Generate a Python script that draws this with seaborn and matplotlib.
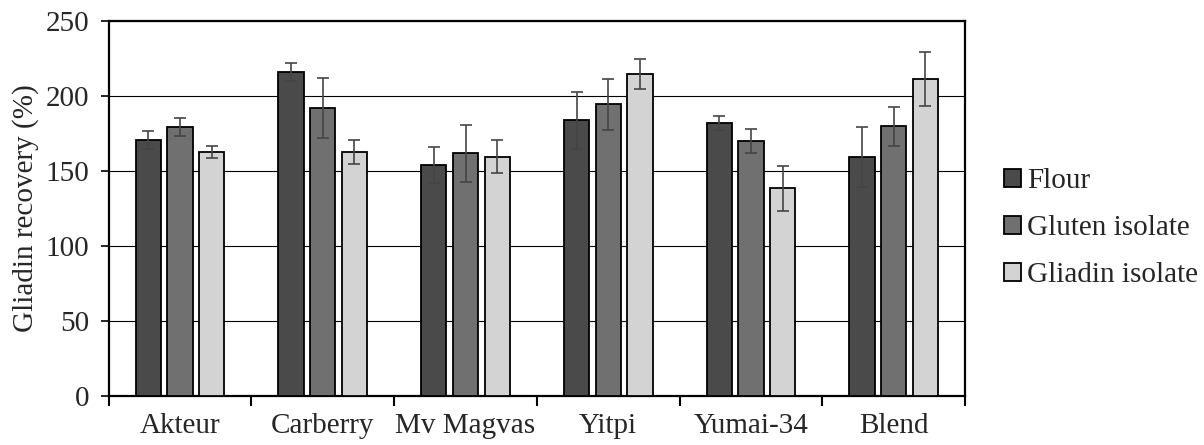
import pandas as pd
import numpy as np
import matplotlib
matplotlib.use("Agg")
import matplotlib.pyplot as plt
import seaborn as sns

# Data
cultivars = ["Akteur", "Carberry", "Mv Magvas", "Yitpi", "Yumai-34", "Blend"]
samples = ["Flour", "Gluten isolate", "Gliadin isolate"]

flour = [170.5, 216, 154, 184, 182, 159.5]
gluten = [179.5, 192, 162, 194.5, 170, 180]
gliadin = [163, 162.5, 159.5, 215, 138.5, 211.5]

flour_err = [6, 6, 12, 19, 4.5, 20]
gluten_err = [6, 20, 19, 17, 8, 13]
gliadin_err = [4, 8, 11, 10, 15, 18]

colors = ["#4a4a4a", "#707070", "#d3d3d3"]

rows = []
for s, vals, errs in zip(samples, [flour, gluten, gliadin], [flour_err, gluten_err, gliadin_err]):
    for c, v, e in zip(cultivars, vals, errs):
        rows.append({"cultivar": c, "sample": s, "recovery": v, "err": e})
df = pd.DataFrame(rows)

sns.set_style("white")
plt.rcParams["font.family"] = ["Liberation Serif", "DejaVu Serif"]
plt.rcParams["font.size"] = 21

fig = plt.figure(figsize=(12.04, 4.45), dpi=100)
ax = fig.add_axes([0.0903, 0.110, 0.7112, 0.8425])

sns.barplot(data=df, x="cultivar", y="recovery", hue="sample",
            order=cultivars, hue_order=samples, palette=colors,
            width=0.666, gap=0.2, errorbar=None, edgecolor="black",
            linewidth=1.3, ax=ax, zorder=3, legend=True)

# error bars at bar centres
for bars, s in zip(ax.containers, samples):
    sub = df[df["sample"] == s].set_index("cultivar").loc[cultivars]
    xs = [b.get_x() + b.get_width() / 2 for b in bars]
    ax.errorbar(xs, sub["recovery"], yerr=sub["err"], fmt="none",
                ecolor="#454545", elinewidth=1.2, capsize=4, capthick=1.2, zorder=4)

ax.set_ylim(0, 250)
ax.set_yticks(np.arange(0, 251, 50))
ax.set_xlim(-0.5, len(cultivars) - 0.5)
ax.yaxis.grid(True, color="black", linewidth=0.8, zorder=0)
ax.set_axisbelow(True)

ax.set_xticks(np.arange(-0.5, len(cultivars), 1), minor=True)
ax.tick_params(axis="x", which="major", length=0, pad=12)
ax.tick_params(axis="x", which="minor", length=7, width=1.5, color="black", direction="out")
ax.tick_params(axis="y", length=6, width=1.2, color="black", direction="out", pad=8)
ax.tick_params(axis="x", which="minor", bottom=True)
ax.tick_params(axis="y", left=True)

for sp in ax.spines.values():
    sp.set_color("black")
    sp.set_linewidth(1.6)

ax.set_xlabel("")
ax.set_ylabel("Gliadin recovery (%)", labelpad=5)

handles, labels = ax.get_legend_handles_labels()
ax.get_legend().remove()
fig.legend(handles, labels, loc="center left", bbox_to_anchor=(0.812, 0.487),
           frameon=False, handlelength=0.6, handleheight=0.6,
           handletextpad=0.2, labelspacing=0.72, fontsize=21)

fig.savefig("out.png", dpi=100)
